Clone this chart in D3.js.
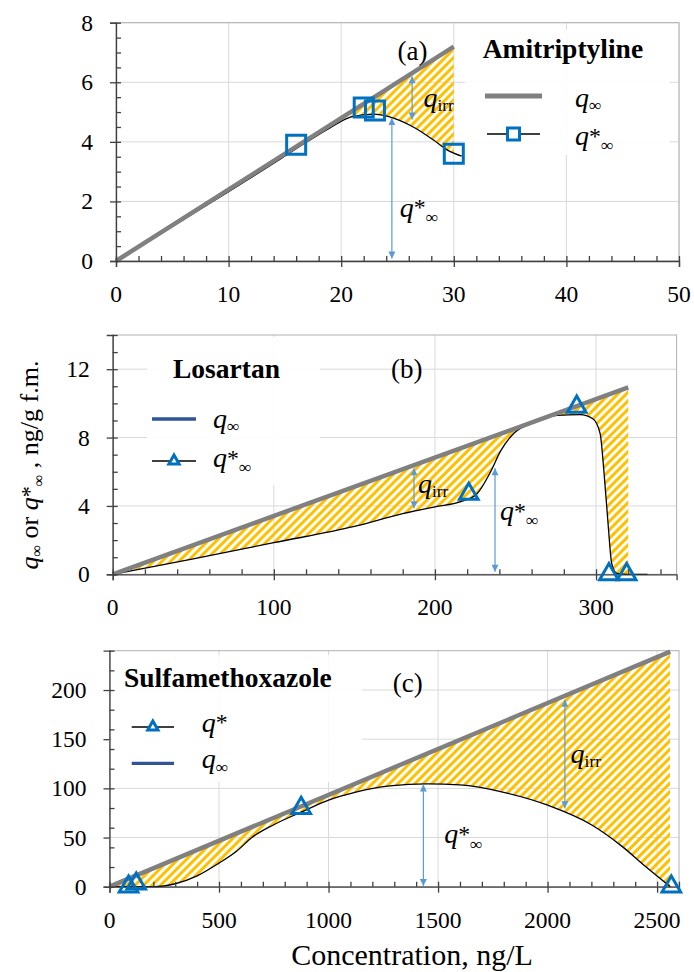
<!DOCTYPE html>
<html>
<head>
<meta charset="utf-8">
<script src="https://cdn.jsdelivr.net/npm/d3@7"></script>
<style>
  body { margin: 0; background: #fff; }
  text { font-family: "Liberation Serif", "Times New Roman", serif; fill: #000; }
</style>
</head>
<body>
<svg id="chart" width="694" height="972"></svg>
<script>
// ---------- data ----------
// (a) Amitriptyline
const amiQinf   = [[0, 0], [30, 7.2]];
const amiCurve  = [[0, 0], [10, 2.33], [14.5, 3.4], [16.8, 3.96], [19, 4.47], [20.9, 4.84], [22.85, 4.93],
                   [24.3, 4.84], [26.4, 4.5], [28.2, 4.06], [29.4, 3.73], [30.7, 3.52]];
const amiPoints = [[16, 3.9], [22, 5.15], [23, 5.05], [30, 3.6]];
const amiXTicks = [0, 10, 20, 30, 40, 50];
const amiYTicks = [0, 2, 4, 6, 8];
const amiArrows = [{ x: 26.3, y1: 6.2, y2: 4.75 }, { x: 24.5, y1: 4.8, y2: 0.08 }];

// (b) Losartan
const losQinf   = [[0, 0], [320, 10.93]];
const losCurve  = [[0, 0], [50, 0.9], [100, 1.85], [150, 2.8], [180, 3.55], [200, 3.95], [216, 4.25],
                   [226, 4.7], [234, 5.9], [241, 7.25], [249, 8.25], [261, 8.85], [276, 9.3], [290, 9.34],
                   [298, 9.1], [302.5, 8.25], [305, 5.9], [307.6, 2.8], [309.7, 0.64], [313, 0.05],
                   [320, 0], [332, 0]];
const losPoints = [[221, 4.7], [288, 9.8], [308, 0], [319, 0]];
const losXTicks = [0, 100, 200, 300];
const losYTicks = [0, 4, 8, 12];
const losArrows = [{ x: 187, y1: 6.2, y2: 3.86 }, { x: 237.3, y1: 6.2, y2: 0.15 }];

// (c) Sulfamethoxazole
const sulQinf   = [[0, 0], [2560, 239]];
const sulCurve  = [[0, 0], [100, 0], [200, 0], [300, 3], [400, 11], [500, 24], [580, 36], [650, 50],
                   [750, 63], [877, 76], [1000, 88], [1120, 96], [1280, 102.5], [1450, 104.5],
                   [1600, 103.5], [1800, 96], [2000, 83], [2200, 63], [2340, 41], [2450, 20], [2560, 0]];
const sulPoints = [[87, 0], [122, 3], [875, 80], [2565, 0]];
const sulXTicks = [0, 500, 1000, 1500, 2000, 2500];
const sulYTicks = [0, 50, 100, 150, 200];
const sulArrows = [{ x: 2079, y1: 190, y2: 79.7 }, { x: 1433, y1: 104, y2: 0.7 }];

// ---------- text pieces ----------
const Q_INF      = [{ t: "q", i: 1 }, { t: "\u221E", s: 0.62, b: 0.15 }];
const Q_STAR_INF = [{ t: "q", i: 1 }, { t: "*", s: 0.85, b: -0.05 }, { t: "\u221E", s: 0.62, b: 0.22 }];
const Q_IRR      = [{ t: "q", i: 1 }, { t: "irr", s: 0.62, b: 0.15 }];
const Q_STAR     = [{ t: "q", i: 1 }, { t: "*", s: 0.85, b: -0.05 }];
const Y_TITLE    = [{ t: "q", i: 1 }, { t: "\u221E", s: 0.62, b: 0.15 }, { t: " or " },
                    { t: "q", i: 1 }, { t: "*", s: 0.85, b: -0.05 }, { t: "\u221E", s: 0.62, b: 0.22 },
                    { t: " , ng/g f.m." }];

const BLUE = "#0070c0", GREY = "#808080", HATCH = "#ffc000", ARROW = "#5b9bd5", DARKBLUE = "#2f5597";
const TICK_FONT = 23.5;

const svg = d3.select("#chart");
const defs = svg.append("defs");

const pat = defs.append("pattern")
  .attr("id", "hatch")
  .attr("patternUnits", "userSpaceOnUse")
  .attr("width", 6).attr("height", 6)
  .attr("patternTransform", "rotate(45)");
pat.append("rect").attr("width", 3).attr("height", 6).attr("fill", HATCH);

defs.append("marker")
  .attr("id", "arr")
  .attr("viewBox", "0 0 10 10")
  .attr("refX", 10).attr("refY", 5)
  .attr("markerUnits", "userSpaceOnUse")
  .attr("markerWidth", 8).attr("markerHeight", 7)
  .attr("orient", "auto-start-reverse")
  .append("path").attr("d", "M0,0L10,5L0,10Z").attr("fill", ARROW);

function richText(sel, parts, size) {
  let shift = 0;
  parts.forEach(p => {
    const s = p.s || 1, b = p.b || 0;
    sel.append("tspan")
      .attr("font-size", size * s)
      .attr("font-style", p.i ? "italic" : null)
      .attr("dy", ((b - shift) * size).toFixed(2))
      .text(p.t);
    shift = b;
  });
  return sel;
}

function drawPanel(cfg, idx) {
  const x = d3.scaleLinear().domain(cfg.xDom).range(cfg.xRange);
  const y = d3.scaleLinear().domain(cfg.yDom).range(cfg.yRange);
  const g = svg.append("g");
  const [x0, x1] = cfg.xRange, [yb, yt] = cfg.yRange;

  // gridlines
  g.append("g").selectAll("line").data(cfg.xTicks.filter(d => d > 0)).join("line")
    .attr("x1", d => x(d)).attr("x2", d => x(d)).attr("y1", yb).attr("y2", yt)
    .attr("stroke", "#d9d9d9").attr("stroke-width", 1);
  g.append("g").selectAll("line").data(cfg.yTicks.filter(d => d > 0)).join("line")
    .attr("x1", x0).attr("x2", x1).attr("y1", d => y(d)).attr("y2", d => y(d))
    .attr("stroke", "#d9d9d9").attr("stroke-width", 1);
  g.append("rect").attr("x", x0).attr("y", yt).attr("width", x1 - x0).attr("height", yb - yt)
    .attr("fill", "none").attr("stroke", "#b0b0b0").attr("stroke-width", 1);

  // legend background
  const lg = cfg.legend;
  g.append("rect").attr("x", lg.box[0]).attr("y", lg.box[1]).attr("width", lg.box[2]).attr("height", lg.box[3])
    .attr("fill", "#fff").attr("opacity", 0.9);

  // hatched region between q_inf and q*_inf
  const line = d3.line().x(d => x(d[0])).y(d => y(d[1])).curve(d3.curveMonotoneX);
  const xEnd = cfg.qinf[1][0], slope = cfg.qinf[1][1] / xEnd;
  const lastX = cfg.curve[cfg.curve.length - 1][0];
  const clipId = "clip" + idx;
  defs.append("clipPath").attr("id", clipId).append("rect")
    .attr("x", x(0)).attr("y", yt - 5).attr("width", x(xEnd) - x(0)).attr("height", yb - yt + 10);
  g.append("path")
    .attr("d", line(cfg.curve) + `L${x(lastX)},${y(slope * lastX)}L${x(0)},${y(0)}Z`)
    .attr("fill", "url(#hatch)").attr("clip-path", `url(#${clipId})`);

  // curve, then q_inf line on top
  g.append("path").attr("d", line(cfg.curve)).attr("fill", "none")
    .attr("stroke", "#000").attr("stroke-width", 1.3);
  g.append("path").attr("d", d3.line().x(d => x(d[0])).y(d => y(d[1]))(cfg.qinf))
    .attr("fill", "none").attr("stroke", GREY).attr("stroke-width", 4.5);

  // axes: major ticks cross the axis, minor ticks point inward
  const majorX = d3.axisBottom(x).tickValues(cfg.xTicks).tickSize(6).tickFormat("");
  const minorX = d3.axisTop(x).tickValues(d3.range(cfg.xDom[0], cfg.xDom[1] + 1e-9, cfg.xMinor))
    .tickSize(5).tickFormat("");
  const majorY = d3.axisLeft(y).tickValues(cfg.yTicks).tickSize(6).tickFormat("");
  const minorY = d3.axisRight(y).tickValues(d3.range(cfg.yDom[0], cfg.yDom[1] + 1e-9, cfg.yMinor))
    .tickSize(5).tickFormat("");
  g.append("g").attr("transform", `translate(0,${yb})`).call(majorX);
  g.append("g").attr("transform", `translate(0,${yb})`).call(minorX).select(".domain").remove();
  g.append("g").attr("transform", `translate(${x0},0)`).call(majorY);
  g.append("g").attr("transform", `translate(${x0},0)`).call(minorY).select(".domain").remove();
  g.selectAll(".domain, .tick line").attr("stroke", "#404040").attr("stroke-width", 1.3);

  // tick labels
  g.append("g").selectAll("text").data(cfg.xTicks).join("text")
    .attr("x", d => x(d)).attr("y", yb + 41)
    .attr("text-anchor", "middle").attr("font-size", TICK_FONT).text(d => d);
  g.append("g").selectAll("text").data(cfg.yTicks).join("text")
    .attr("x", x0 - 23).attr("y", d => y(d) + 8)
    .attr("text-anchor", "end").attr("font-size", TICK_FONT).text(d => d);

  // arrows
  g.append("g").selectAll("line").data(cfg.arrows).join("line")
    .attr("x1", d => x(d.x)).attr("x2", d => x(d.x))
    .attr("y1", d => y(d.y1)).attr("y2", d => y(d.y2))
    .attr("stroke", ARROW).attr("stroke-width", 1.2)
    .attr("marker-start", "url(#arr)").attr("marker-end", "url(#arr)");

  // markers
  g.append("g").selectAll("path").data(cfg.points).join("path")
    .attr("transform", d => `translate(${x(d[0])},${y(d[1])})`)
    .attr("d", d3.symbol(cfg.sym, cfg.symSize))
    .attr("fill", "none").attr("stroke", BLUE).attr("stroke-width", 3);

  // annotations
  richText(g.append("text").attr("x", x(cfg.irrAt[0])).attr("y", y(cfg.irrAt[1])), Q_IRR, 28);
  richText(g.append("text").attr("x", x(cfg.starAt[0])).attr("y", y(cfg.starAt[1])), Q_STAR_INF, 28);
  g.append("text").attr("x", x(cfg.tagAt[0])).attr("y", y(cfg.tagAt[1]))
    .attr("font-size", 27).text(cfg.tag);

  // legend
  g.append("text").attr("x", lg.title[0]).attr("y", lg.title[1])
    .attr("font-size", 27.5).attr("font-weight", "bold").text(lg.name);
  lg.items.forEach(it => {
    g.append("line").attr("x1", it.x1).attr("x2", it.x2).attr("y1", it.y).attr("y2", it.y)
      .attr("stroke", it.color).attr("stroke-width", it.w);
    if (it.sym) {
      g.append("path").attr("transform", `translate(${(it.x1 + it.x2) / 2},${it.y})`)
        .attr("d", d3.symbol(it.sym, it.size))
        .attr("fill", "#fff").attr("stroke", BLUE).attr("stroke-width", 3);
    }
    richText(g.append("text").attr("x", it.lx).attr("y", it.ly), it.parts, 28);
  });
}

const panels = [
  {
    qinf: amiQinf, curve: amiCurve, points: amiPoints, arrows: amiArrows,
    xTicks: amiXTicks, yTicks: amiYTicks, xMinor: 2, yMinor: 0.5,
    xDom: [0, 50], xRange: [116, 679], yDom: [0, 8], yRange: [261, 22.7],
    sym: d3.symbolSquare, symSize: 361,
    irrAt: [27.3, 5.18], starAt: [25.2, 1.49], tagAt: [25.0, 6.75], tag: "(a)",
    legend: {
      box: [465, 30, 205, 125], title: [482.7, 58.3], name: "Amitriptyline",
      items: [
        { x1: 485, x2: 542, y: 96, color: GREY, w: 5, lx: 575, ly: 106.7, parts: Q_INF },
        { x1: 487, x2: 540, y: 134, color: "#000", w: 1.3, sym: d3.symbolSquare, size: 144,
          lx: 575, ly: 145, parts: Q_STAR_INF }
      ]
    }
  },
  {
    qinf: losQinf, curve: losCurve, points: losPoints, arrows: losArrows,
    xTicks: losXTicks, yTicks: losYTicks, xMinor: 20, yMinor: 1,
    xDom: [0, 350], xRange: [112.7, 676.6], yDom: [0, 14], yRange: [574.3, 335],
    sym: d3.symbolTriangle, symSize: 150,
    irrAt: [189.5, 4.74], starAt: [240.4, 3.18], tagAt: [172.7, 11.5], tag: "(b)",
    legend: {
      box: [147, 337, 173, 148], title: [173, 378], name: "Losartan",
      items: [
        { x1: 152, x2: 196, y: 419, color: DARKBLUE, w: 3.5, lx: 213, ly: 428, parts: Q_INF },
        { x1: 152, x2: 196, y: 461, color: "#000", w: 1.3, sym: d3.symbolTriangle, size: 45,
          lx: 213, ly: 467, parts: Q_STAR_INF }
      ]
    }
  },
  {
    qinf: sulQinf, curve: sulCurve, points: sulPoints, arrows: sulArrows,
    xTicks: sulXTicks, yTicks: sulYTicks, xMinor: 100, yMinor: 20,
    xDom: [0, 2600], xRange: [109.5, 679], yDom: [0, 240], yRange: [886.7, 650.7],
    sym: d3.symbolTriangle, symSize: 150,
    irrAt: [2105, 125.5], starAt: [1528, 44], tagAt: [1293, 198.4], tag: "(c)",
    legend: {
      box: [112, 655, 250, 127], title: [124, 686.7], name: "Sulfamethoxazole",
      items: [
        { x1: 131.7, x2: 174, y: 727, color: "#000", w: 1.3, sym: d3.symbolTriangle, size: 45,
          lx: 201.7, ly: 731.7, parts: Q_STAR },
        { x1: 131.7, x2: 174, y: 763.3, color: DARKBLUE, w: 3.2, lx: 201.7, ly: 768.3, parts: Q_INF }
      ]
    }
  }
];

panels.forEach(drawPanel);

// axis titles
richText(svg.append("text")
  .attr("transform", "translate(38,465) rotate(-90)")
  .attr("text-anchor", "middle"), Y_TITLE, 26);

svg.append("text").attr("x", 412).attr("y", 965).attr("text-anchor", "middle")
  .attr("font-size", 30).text("Concentration, ng/L");
</script>
</body>
</html>
